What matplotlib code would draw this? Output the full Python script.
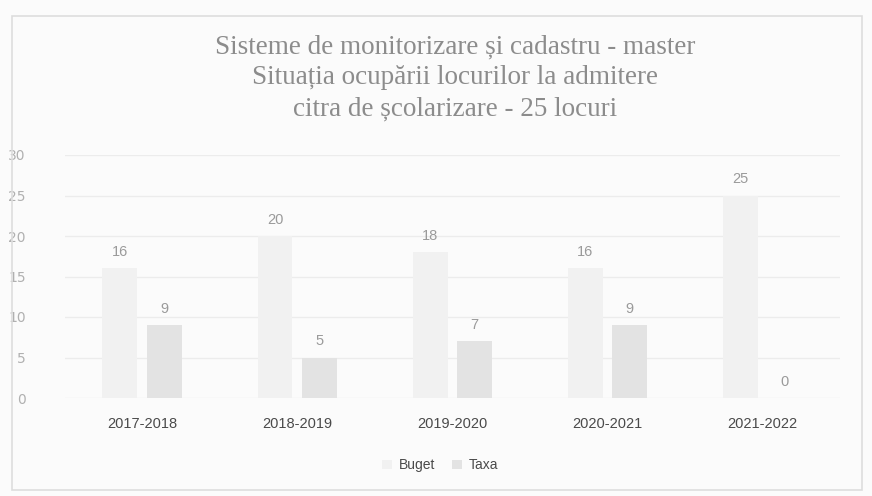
import numpy as np
import matplotlib.pyplot as plt
from matplotlib.patches import Rectangle

ani = ['2017-2018', '2018-2019', '2019-2020', '2020-2021', '2021-2022']
buget = [16, 20, 18, 16, 25]
taxa = [9, 5, 7, 9, 0]
serii = ['Buget', 'Taxa']
titlu = ('Sisteme de monitorizare și cadastru - master\n'
         'Situația ocupării locurilor la admitere\n'
         'citra de școlarizare - 25 locuri')

fig = plt.figure(figsize=(8.72, 4.96), dpi=100)
fig.patch.set_facecolor('#fbfbfb')
# chenar slab in jurul graficului
fig.patches.append(Rectangle((0.014, 0.012), 0.975, 0.955, transform=fig.transFigure,
                             fill=False, edgecolor='#dddddd', lw=1.2))

ax = fig.add_axes([64.5 / 872, 1 - 398 / 496, (840 - 64.5) / 872, (398 - 155) / 496])
ax.set_facecolor('#fbfbfb')

x = np.arange(len(ani))
w = 0.225
gap = 0.03
b1 = ax.bar(x - w / 2 - gap, buget, w, color='#f1f1f1', label=serii[0], zorder=2)
b2 = ax.bar(x + w / 2 + gap, taxa, w, color='#e3e3e3', label=serii[1], zorder=2)

for bars in (b1, b2):
    for r in bars:
        ax.text(r.get_x() + r.get_width() / 2, r.get_height() + 2.0, str(int(r.get_height())),
                ha='center', va='center', fontsize=10.5, color='#9a9a9a',
                family='Liberation Sans')

ax.set_xlim(-0.5, len(ani) - 0.5)
ax.set_ylim(0, 30)
ax.set_yticks(range(0, 31, 5))
ax.yaxis.grid(True, color='#ececec', lw=1, zorder=0)
ax.set_xticks(x)
ax.set_xticklabels(ani, fontsize=10.5, color='#4a4a4a', family='Liberation Sans')
ax.tick_params(axis='x', length=0, pad=14)
ax.tick_params(axis='y', length=0, pad=28, labelsize=10, labelcolor='#b0b0b0')
for s in ax.spines.values():
    s.set_visible(False)

fig.text(0.522, 0.843, titlu, ha='center', va='center', fontsize=19.5,
         color='#8c8c8c', family='Liberation Serif', linespacing=1.3)

fig.legend(handles=[b1, b2], loc='center', bbox_to_anchor=(0.505, 0.062), ncol=2,
           frameon=False, handlelength=0.7, handleheight=0.7,
           columnspacing=1.2, handletextpad=0.5,
           prop={'family': 'Liberation Sans', 'size': 10})
for t in fig.legends[0].get_texts():
    t.set_color('#4a4a4a')

fig.savefig('out.png', dpi=100, facecolor=fig.get_facecolor())
